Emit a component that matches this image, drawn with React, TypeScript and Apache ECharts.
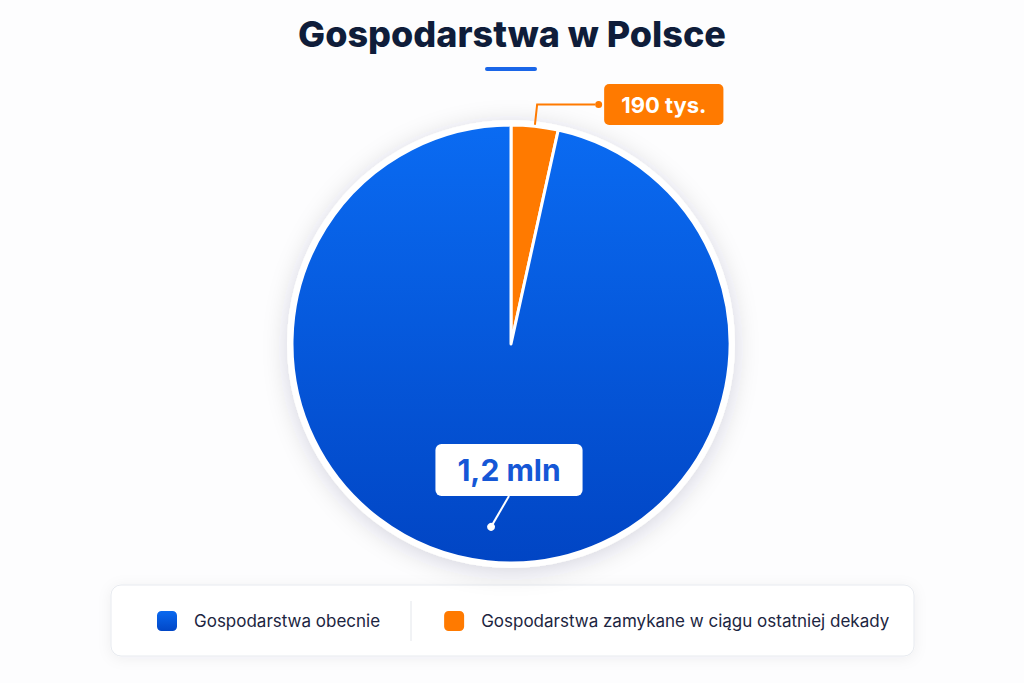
import React, { useEffect, useRef } from 'react';
import * as echarts from 'echarts';

// Data (slice order: clockwise from the top)
const categories = ['Gospodarstwa zamykane w ciągu ostatniej dekady', 'Gospodarstwa obecnie'];
const legendOrder = ['Gospodarstwa obecnie', 'Gospodarstwa zamykane w ciągu ostatniej dekady'];
// shares as drawn in the picture
const sliceValues = [43, 1200];
const sliceLabels = ['190 tys.', '1,2 mln'];
const titleText = 'Gospodarstwa w Polsce';

const FONT = 'Inter, "Noto Sans", Roboto, sans-serif';
const CX = 511;
const CY = 344;
const R = 219;
const BLUE_BOX_H = 52;

export default function App() {
  const ref = useRef<HTMLDivElement>(null);
  useEffect(() => {
    if (!ref.current) return;
    const chart = echarts.init(ref.current, undefined, { renderer: 'svg' });
    const total = sliceValues.reduce((a, b) => a + b, 0);
    const firstDeg = (sliceValues[0] / total) * 360;
    const blueMid = ((firstDeg + 360) / 2) * Math.PI / 180;
    const dot = [CX + Math.sin(blueMid) * R * 0.84, CY - Math.cos(blueMid) * R * 0.84];
    const lx = CX - 2;
    const ly = CY + 0.575 * R;

    const blueGrad = new echarts.graphic.LinearGradient(0, 0, 0, 1, [
      { offset: 0, color: '#0A6BF2' },
      { offset: 1, color: '#0145C4' },
    ]);

    chart.setOption({
      animation: false,
      backgroundColor: '#fdfdfe',
      title: {
        text: titleText,
        left: 'center',
        top: 11,
        textStyle: { fontSize: 36, fontWeight: 800, color: '#0f1d3a', fontFamily: FONT },
      },
      legend: {
        data: legendOrder,
        left: 155,
        top: 609,
        itemWidth: 22,
        itemHeight: 22,
        itemGap: 62,
        icon: 'roundRect',
        padding: 0,
        selectedMode: false,
        textStyle: { fontSize: 17, color: '#1c2541', fontFamily: FONT, padding: [0, 0, 0, 11] },
      },
      graphic: [
        { type: 'rect', z: 0, shape: { x: 485, y: 67, width: 52, height: 4, r: 2 }, style: { fill: '#1a66e8' } },
        {
          type: 'rect', z: 0,
          shape: { x: 111, y: 585, width: 803, height: 71, r: 10 },
          style: { fill: '#ffffff', stroke: '#e7eaef', lineWidth: 1, shadowBlur: 14, shadowColor: 'rgba(20,30,60,0.06)', shadowOffsetY: 2 },
        },
        { type: 'line', z: 1, shape: { x1: 411, y1: 601, x2: 411, y2: 641 }, style: { stroke: '#e3e6eb', lineWidth: 1 } },
        {
          type: 'line', z: 100,
          shape: { x1: dot[0], y1: dot[1], x2: lx, y2: ly + BLUE_BOX_H / 2 },
          style: { stroke: '#ffffff', lineWidth: 2 },
        },
        { type: 'circle', z: 101, shape: { cx: dot[0], cy: dot[1], r: 4 }, style: { fill: '#ffffff' } },
      ],
      series: [
        {
          type: 'pie',
          silent: true,
          center: [CX, CY],
          radius: R + 5,
          z: 1,
          label: { show: false },
          labelLine: { show: false },
          data: [{ value: 1, itemStyle: { color: '#ffffff', shadowBlur: 24, shadowColor: 'rgba(20,30,60,0.16)', shadowOffsetY: 4 } }],
        },
        {
          type: 'pie',
          center: [CX, CY],
          radius: R,
          startAngle: 90,
          clockwise: true,
          z: 2,
          avoidLabelOverlap: false,
          itemStyle: { borderColor: '#ffffff', borderWidth: 3 },
          labelLayout: (p: any) => {
            if (p.dataIndex !== 1) return {};
            return { x: lx, y: ly, align: 'center', verticalAlign: 'middle' };
          },
          data: [
            {
              name: categories[0],
              value: sliceValues[0],
              itemStyle: { color: '#FF7A00' },
              label: {
                show: true,
                position: 'outside',
                distanceToLabelLine: 0,
                formatter: `{dot|}{gap|}{box|${sliceLabels[0]}}`,
                rich: {
                  dot: { width: 7, height: 7, borderRadius: 4, backgroundColor: '#FF7A00' },
                  gap: { width: 2 },
                  box: {
                    backgroundColor: '#FF7A00', color: '#ffffff', fontSize: 22, fontWeight: 'bold',
                    fontFamily: FONT, padding: [10, 17, 9, 17], borderRadius: 5, lineHeight: 22,
                  },
                },
              },
              labelLine: { show: true, length: 22, length2: 58, lineStyle: { color: '#FF7A00', width: 2 } },
            },
            {
              name: categories[1],
              value: sliceValues[1],
              itemStyle: { color: blueGrad },
              label: {
                show: true,
                position: 'outside',
                formatter: `{v|${sliceLabels[1]}}`,
                rich: {
                  v: {
                    backgroundColor: '#ffffff', color: '#1557d6', fontSize: 30, fontWeight: 'bold',
                    fontFamily: FONT, padding: [11, 22, 11, 22], borderRadius: 6, lineHeight: 30,
                  },
                },
              },
              labelLine: { show: false },
            },
          ],
        },
      ],
    });
    return () => chart.dispose();
  }, []);
  return <div ref={ref} style={{ position: 'fixed', left: 0, top: 0, width: 1024, height: 683 }} />;
}
